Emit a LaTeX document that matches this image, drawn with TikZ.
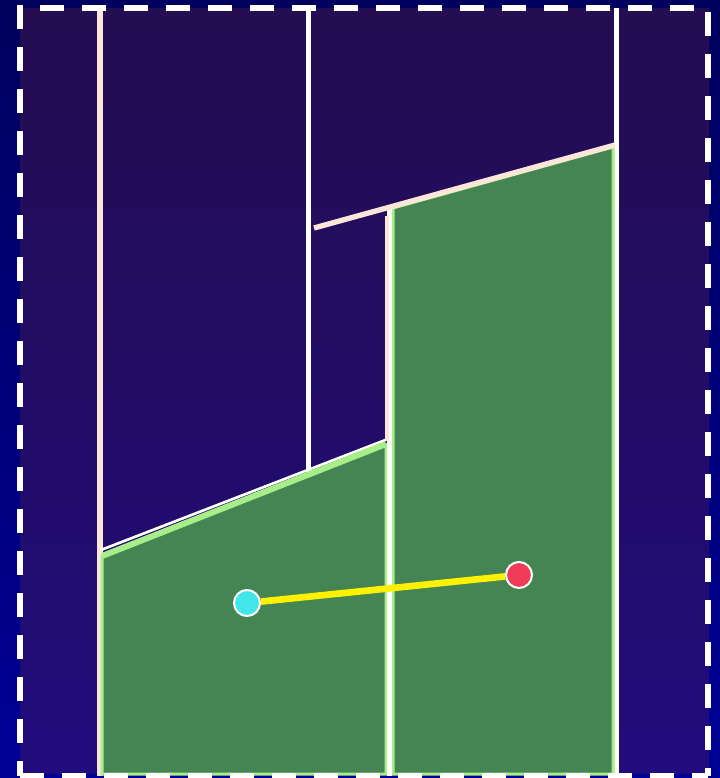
\documentclass[tikz,border=0pt]{standalone}
\definecolor{outertop}{HTML}{00005E}
\definecolor{outerbot}{HTML}{000096}
\definecolor{innertop}{HTML}{240D50}
\definecolor{innerbot}{HTML}{200C7C}
\definecolor{wallpink}{HTML}{FCE6DA}
\definecolor{roomfill}{HTML}{458553}
\definecolor{roomedge}{HTML}{A8EE88}
\definecolor{cyanpt}{HTML}{40E6E8}
\definecolor{redpt}{HTML}{F03C5A}
\tikzset{
  pinkwall/.style={draw=wallpink, line width=4pt},
  whitewall/.style={draw=white, line width=3.75pt},
  room/.style={fill=roomfill, draw=roomedge, line width=2.25pt, line join=miter},
  pointnode/.style={circle, draw=white, line width=1.5pt, minimum size=19.5pt, inner sep=0pt},
  framedash/.style={draw=white, line width=4pt, dash pattern=on 18pt off 13.5pt}
}
\begin{document}
\begin{tikzpicture}[x=0.75pt,y=-0.75pt]
\useasboundingbox (0,0) rectangle (720,778);
\shade[top color=outertop,bottom color=outerbot] (0,0) rectangle (720,778);
\shade[top color=innertop,bottom color=innerbot] (20,8) rectangle (709,773);
% walls
\draw[pinkwall] (100,8) -- (100,776);
\draw[whitewall] (308,8) -- (308,472);
\draw[whitewall] (616,8) -- (616,776);
% left room
\draw[draw=white, line width=2pt] (101,550) -- (388,439);
\draw[room] (102,557) -- (386,445) -- (386,774) -- (102,774) -- cycle;
\draw[draw=roomedge, line width=4.5pt] (102,556) -- (386,444);
% right room
\draw[room] (393,208) -- (613,147) -- (613,774) -- (393,774) -- cycle;
% middle walls
\draw[whitewall] (389.5,207) -- (389.5,776);
\draw[draw=wallpink, line width=2.5pt] (387,216) -- (387,441);
\draw[pinkwall] (314,228) -- (615,145);
% points
\node[pointnode, fill=cyanpt] (p1) at (247,603) {};
\node[pointnode, fill=redpt] (p2) at (519,575) {};
\draw[draw=yellow, line width=5pt] (p1) -- (p2);
% dashed frame
\draw[framedash, dash phase=0pt] (20,5) -- (20,776);
\draw[framedash, dash phase=16.5pt] (20,8) -- (708,8);
\draw[framedash, dash phase=28.5pt] (708,8) -- (708,776);
\draw[framedash, dash phase=0pt] (20,775.5) -- (708,775.5);
\end{tikzpicture}
\end{document}
